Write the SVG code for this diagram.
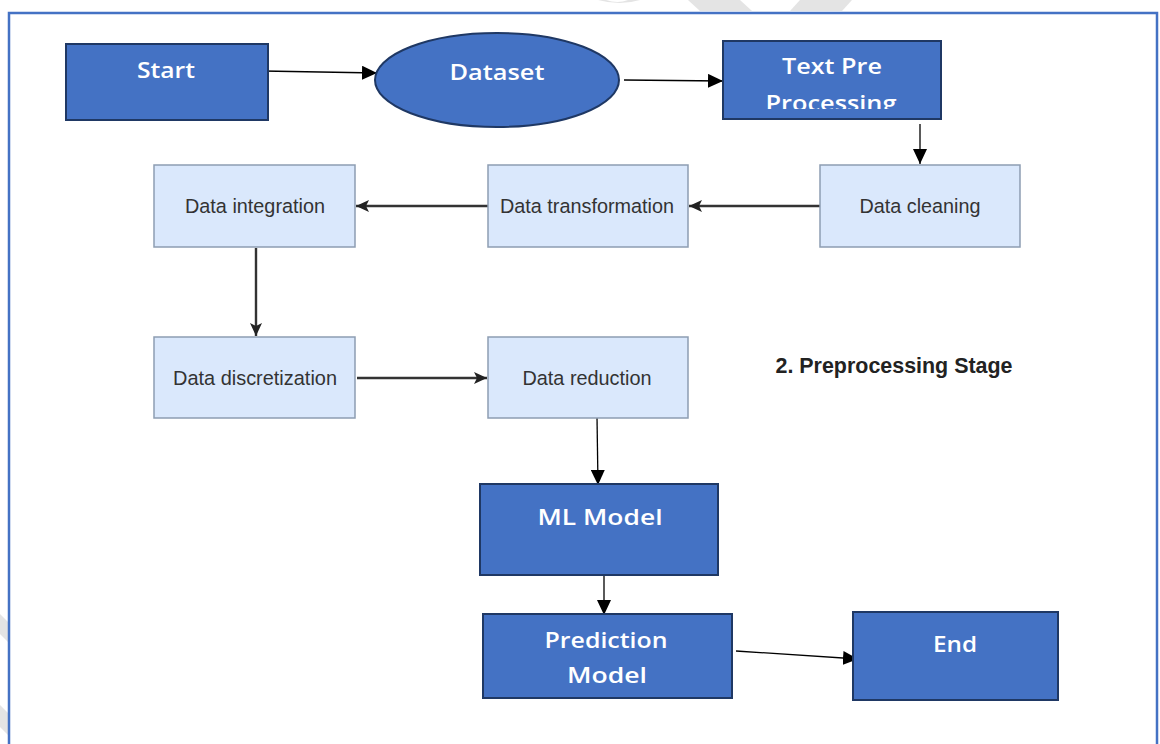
<svg xmlns="http://www.w3.org/2000/svg" width="1160" height="744" viewBox="0 0 1160 744">
<style>
.blue{fill:#4472C4;stroke:#1F3864;stroke-width:2}
.light{fill:#DAE8FC;stroke:#8D9DB2;stroke-width:1.5}
.bt{font-family:"Open Sans","Noto Sans",sans-serif;font-size:22px;font-weight:600;fill:#ffffff;text-anchor:middle}
.lt{font-family:"Liberation Sans",Arial,sans-serif;font-size:20.5px;fill:#333333;text-anchor:middle}
.thin{stroke:#000;stroke-width:1.3;fill:none}
.thick{stroke:#333;stroke-width:2.4;fill:none}
.wm{fill:#e4e4e4}
</style>
<defs>
<marker id="ah" markerUnits="userSpaceOnUse" markerWidth="16" markerHeight="14" refX="15" refY="7" orient="auto">
<path d="M0,0 L15,7 L0,14 Z" fill="#000"/>
</marker>
<marker id="ag" markerUnits="userSpaceOnUse" markerWidth="14" markerHeight="14" refX="13" refY="7" orient="auto">
<path d="M0,1 L13,7 L0,13 L3,7 Z" fill="#222"/>
</marker>
<clipPath id="tpclip"><rect x="724" y="42" width="216" height="67"/></clipPath>
</defs>
<rect x="0" y="0" width="1160" height="744" fill="#ffffff"/>
<g id="watermark">
<path class="wm" d="M598,0 Q620,6 640,0 L628,0 Q618,4 606,0 Z"/>
<path class="wm" d="M688,0 L740,0 L752,11 L700,11 Z"/>
<path class="wm" d="M800,0 L852,0 L842,11 L790,11 Z"/>
<path class="wm" d="M0,614 L8,622 L8,642 L0,634 Z"/>
<path class="wm" d="M0,705 L8,713 L8,735 L0,727 Z"/>
</g>
<rect id="frame" x="9" y="13" width="1148" height="760" fill="none" stroke="#4472C4" stroke-width="2.5"/>
<g id="connectors">
<line class="thin" x1="263" y1="71" x2="377" y2="73" marker-end="url(#ah)"/>
<line class="thin" x1="624" y1="80" x2="723" y2="81" marker-end="url(#ah)"/>
<line class="thin" x1="920" y1="124" x2="920" y2="164" marker-end="url(#ah)"/>
<line class="thick" x1="820" y1="206" x2="689" y2="206" marker-end="url(#ag)"/>
<line class="thick" x1="488" y1="206" x2="356" y2="206" marker-end="url(#ag)"/>
<line class="thick" x1="256" y1="248" x2="256" y2="336" marker-end="url(#ag)"/>
<line class="thick" x1="357" y1="378" x2="487" y2="378" marker-end="url(#ag)"/>
<line class="thin" x1="597" y1="417" x2="598" y2="485" marker-end="url(#ah)"/>
<line class="thin" x1="604" y1="576" x2="604" y2="615" marker-end="url(#ah)"/>
<line class="thin" x1="736" y1="651" x2="858" y2="659" marker-end="url(#ah)"/>
</g>
<g id="start">
<rect class="blue" x="66" y="44" width="202" height="76"/>
<text class="bt" x="166" y="78" textLength="58" lengthAdjust="spacingAndGlyphs">Start</text>
</g>
<g id="dataset">
<ellipse class="blue" cx="497" cy="80" rx="122" ry="47"/>
<text class="bt" x="497" y="80" textLength="95" lengthAdjust="spacingAndGlyphs">Dataset</text>
</g>
<g id="textpre">
<rect class="blue" x="723" y="41" width="218" height="78"/>
<text class="bt" x="832" y="74" textLength="100" lengthAdjust="spacingAndGlyphs">Text Pre</text>
<text class="bt" x="831" y="111" textLength="131" lengthAdjust="spacingAndGlyphs" clip-path="url(#tpclip)">Processing</text>
</g>
<g id="cleaning">
<rect class="light" x="820" y="165" width="200" height="82"/>
<text class="lt" x="920" y="213" textLength="121" lengthAdjust="spacingAndGlyphs">Data cleaning</text>
</g>
<g id="transformation">
<rect class="light" x="488" y="165" width="200" height="82"/>
<text class="lt" x="587" y="213" textLength="174" lengthAdjust="spacingAndGlyphs">Data transformation</text>
</g>
<g id="integration">
<rect class="light" x="154" y="165" width="201" height="82"/>
<text class="lt" x="255" y="213" textLength="140" lengthAdjust="spacingAndGlyphs">Data integration</text>
</g>
<g id="discretization">
<rect class="light" x="154" y="337" width="201" height="81"/>
<text class="lt" x="255" y="385" textLength="164" lengthAdjust="spacingAndGlyphs">Data discretization</text>
</g>
<g id="reduction">
<rect class="light" x="488" y="337" width="200" height="81"/>
<text class="lt" x="587" y="385" textLength="129" lengthAdjust="spacingAndGlyphs">Data reduction</text>
</g>
<g id="stage-label">
<text x="894" y="373" font-family="Liberation Sans,Arial,sans-serif" font-size="22" font-weight="bold" fill="#222" text-anchor="middle" textLength="237" lengthAdjust="spacingAndGlyphs">2. Preprocessing Stage</text>
</g>
<g id="mlmodel">
<rect class="blue" x="480" y="484" width="238" height="91"/>
<text class="bt" x="600" y="525" textLength="125" lengthAdjust="spacingAndGlyphs">ML Model</text>
</g>
<g id="prediction">
<rect class="blue" x="483" y="614" width="249" height="84"/>
<text class="bt" x="606" y="648" textLength="123" lengthAdjust="spacingAndGlyphs">Prediction</text>
<text class="bt" x="607" y="683" textLength="80" lengthAdjust="spacingAndGlyphs">Model</text>
</g>
<g id="end">
<rect class="blue" x="853" y="612" width="205" height="88"/>
<text class="bt" x="955" y="652" textLength="44" lengthAdjust="spacingAndGlyphs">End</text>
</g>
</svg>
